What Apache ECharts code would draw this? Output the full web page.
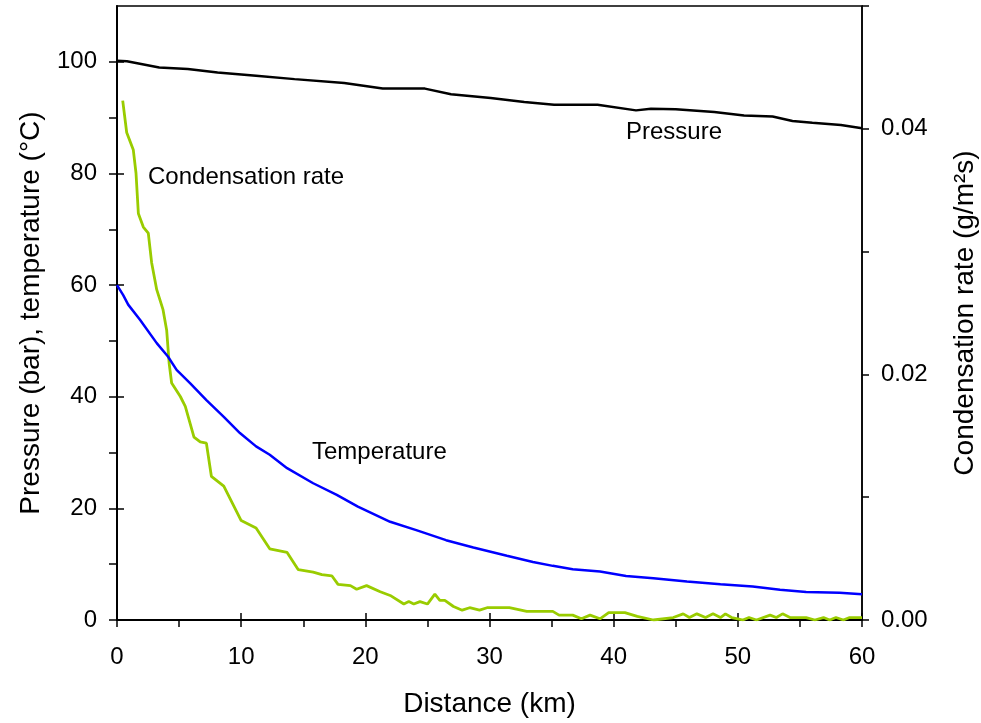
<!DOCTYPE html>
<html>
<head>
<meta charset="utf-8">
<script src="https://cdn.jsdelivr.net/npm/echarts@6/dist/echarts.min.js"></script>
<style>
  html, body { margin: 0; padding: 0; background: #fff; }
  #chart { width: 981px; height: 723px; }
</style>
</head>
<body>
<div id="chart"></div>
<script>
// distance (km) / pressure (bar)
const distP = [0, 0.8, 3.4, 5.7, 8.1, 11.2, 14.3, 18.3, 21.4, 24.8, 26.9, 30.1, 32.8, 35.2, 38.7, 41.8, 43.0, 45.0, 48.1, 50.5, 52.8, 54.4, 56.0, 58.3, 60];
const pressure = [100.2, 100.1, 99.0, 98.7, 98.1, 97.5, 96.9, 96.2, 95.2, 95.2, 94.2, 93.5, 92.8, 92.3, 92.3, 91.3, 91.6, 91.5, 91.0, 90.4, 90.2, 89.4, 89.1, 88.7, 88.1];

// distance (km) / temperature (°C)
const distT = [0, 0.5, 0.9, 1.85, 3.2, 4.1, 4.8, 5.9, 7.2, 8.6, 9.9, 11.2, 12.3, 13.7, 15.8, 17.7, 19.4, 22.0, 24.1, 26.5, 28.7, 31.4, 33.5, 35.1, 36.7, 38.9, 41.0, 43.2, 45.9, 48.6, 51.2, 53.4, 55.5, 58.2, 60];
const temperature = [60.0, 58.2, 56.5, 53.8, 49.6, 47.2, 44.8, 42.4, 39.4, 36.4, 33.5, 31.1, 29.6, 27.2, 24.5, 22.4, 20.3, 17.6, 16.1, 14.3, 13.0, 11.5, 10.4, 9.7, 9.1, 8.7, 7.9, 7.5, 6.9, 6.4, 6.0, 5.4, 5.0, 4.9, 4.6];

// distance (km) / condensation rate (g/m2s)
const distC = [0.46, 0.78, 1.31, 1.53, 1.72, 2.12, 2.52, 2.79, 3.2, 3.7, 4.0, 4.2, 4.4, 5.1, 5.5, 6.2, 6.7, 7.2, 7.6, 8.6, 10.0, 11.2, 12.3, 13.7, 14.6, 15.8, 16.5, 17.3, 17.8, 18.8, 19.3, 20.1, 21.2, 22.0, 23.1, 23.5, 23.9, 24.4, 25.0, 25.6, 26.0, 26.4, 27.1, 27.8, 28.4, 29.2, 29.8, 30.3, 31.6, 33.0, 35.1, 35.6, 36.7, 37.4, 38.1, 38.9, 39.6, 40.9, 41.9, 43.2, 44.8, 45.6, 46.1, 46.7, 47.4, 48.0, 48.6, 49.0, 49.5, 50.0, 50.4, 50.9, 51.5, 52.6, 53.1, 53.6, 54.2, 55.5, 56.2, 56.9, 57.4, 57.9, 58.5, 59.0, 60];
const condRate = [0.0423, 0.0397, 0.0383, 0.0364, 0.0331, 0.0320, 0.0315, 0.0291, 0.0269, 0.0253, 0.0236, 0.0209, 0.0193, 0.0182, 0.0174, 0.0149, 0.0145, 0.0144, 0.0117, 0.0109, 0.0081, 0.0075, 0.0058, 0.0055, 0.0041, 0.0039, 0.0037, 0.0036, 0.0029, 0.0028, 0.0025, 0.0028, 0.0023, 0.0020, 0.0013, 0.0015, 0.0013, 0.0015, 0.0013, 0.0021, 0.0016, 0.0016, 0.0011, 0.0008, 0.0010, 0.0008, 0.0010, 0.0010, 0.0010, 0.0007, 0.0007, 0.0004, 0.0004, 0.0001, 0.0004, 0.0001, 0.0006, 0.0006, 0.0003, 0.0, 0.0002, 0.0005, 0.0002, 0.0005, 0.0002, 0.0005, 0.0002, 0.0005, 0.0002, 0.0001, 0.0, 0.0002, 0.0, 0.0004, 0.0002, 0.0005, 0.0002, 0.0002, 0.0, 0.0002, 0.0, 0.0002, 0.0, 0.0002, 0.0002];

// tick positions
const xMajor = [0, 10, 20, 30, 40, 50, 60];
const xAll = [0, 5, 10, 15, 20, 25, 30, 35, 40, 45, 50, 55, 60];
const yMajor = [0, 20, 40, 60, 80, 100];
const yAll = [0, 10, 20, 30, 40, 50, 60, 70, 80, 90, 100];
const rTicks = [0, 0.01, 0.02, 0.03, 0.04, 0.05];
const rLabels = [0, 0.02, 0.04];

const zip = (xs, ys) => xs.map((x, i) => [x, ys[i]]);

const FONT = 'Liberation Sans, Arial, sans-serif';
const chart = echarts.init(document.getElementById('chart'));

const hidden = { show: false };
const nameStyle = { fontSize: 28, fontFamily: FONT, color: '#000' };
const tickLine = { color: '#000', width: 1.5 };
const rect = { left: 117, right: 119, top: 6, bottom: 103, outerBoundsMode: 'none' };

chart.setOption({
  animation: false,
  backgroundColor: '#fff',
  textStyle: { fontFamily: FONT, color: '#000' },
  grid: [
    Object.assign({ show: true, borderColor: '#000', borderWidth: 1.5 }, rect),
    // overlay grid, only carries the inner half of the major ticks
    Object.assign({}, rect)
  ],
  xAxis: [
    {
      type: 'value', min: 0, max: 60, gridIndex: 0,
      name: 'Distance (km)', nameLocation: 'middle', nameGap: 70,
      nameTextStyle: nameStyle,
      axisLine: { show: true, lineStyle: { color: '#000', width: 2 } },
      axisTick: { show: true, inside: false, length: 7, customValues: xAll, lineStyle: tickLine },
      axisLabel: { customValues: xMajor, fontSize: 24, margin: 25, color: '#000', fontFamily: FONT },
      splitLine: hidden
    },
    {
      type: 'value', min: 0, max: 60, gridIndex: 1,
      axisLine: hidden,
      axisTick: { show: true, inside: true, length: 7, customValues: xMajor, lineStyle: tickLine },
      axisLabel: hidden, splitLine: hidden
    }
  ],
  yAxis: [
    {
      type: 'value', min: 0, max: 110, position: 'left', gridIndex: 0,
      name: 'Pressure (bar), temperature (°C)', nameLocation: 'middle', nameGap: 72, nameRotate: 90,
      nameTextStyle: nameStyle,
      axisLine: { show: true, lineStyle: { color: '#000', width: 2 } },
      axisTick: { show: true, inside: false, length: 8, customValues: yAll, lineStyle: tickLine },
      axisLabel: { customValues: yMajor, fontSize: 24, margin: 20, color: '#000', fontFamily: FONT },
      splitLine: hidden
    },
    {
      type: 'value', min: 0, max: 0.05, position: 'right', gridIndex: 0,
      name: 'Condensation rate (g/m²s)', nameLocation: 'middle', nameGap: 89, nameRotate: 90,
      nameTextStyle: nameStyle,
      axisLine: { show: true, lineStyle: { color: '#000', width: 1.5 } },
      axisTick: { show: true, inside: false, length: 7, customValues: rTicks, lineStyle: tickLine },
      axisLabel: {
        customValues: rLabels, fontSize: 24, margin: 19, color: '#000', fontFamily: FONT,
        formatter: v => v.toFixed(2)
      },
      splitLine: hidden
    },
    {
      type: 'value', min: 0, max: 110, position: 'left', gridIndex: 1,
      axisLine: hidden,
      axisTick: { show: true, inside: true, length: 7, customValues: yMajor, lineStyle: tickLine },
      axisLabel: hidden, splitLine: hidden
    }
  ],
  series: [
    {
      name: 'Pressure', type: 'line', xAxisIndex: 0, yAxisIndex: 0,
      data: zip(distP, pressure), showSymbol: false, symbol: 'none',
      lineStyle: { color: '#000', width: 2.5 }, z: 3
    },
    {
      name: 'Temperature', type: 'line', xAxisIndex: 0, yAxisIndex: 0,
      data: zip(distT, temperature), showSymbol: false, symbol: 'none',
      lineStyle: { color: '#0000ff', width: 2.5 }, z: 3
    },
    {
      name: 'Condensation rate', type: 'line', xAxisIndex: 0, yAxisIndex: 1,
      data: zip(distC, condRate), showSymbol: false, symbol: 'none',
      lineStyle: { color: '#99cc00', width: 2.8 }, z: 2
    }
  ],
  graphic: [
    { type: 'text', left: 626, top: 120, style: { text: 'Pressure', font: '24px ' + FONT, fill: '#000' } },
    { type: 'text', left: 148, top: 165, style: { text: 'Condensation rate', font: '24px ' + FONT, fill: '#000' } },
    { type: 'text', left: 312, top: 440, style: { text: 'Temperature', font: '24px ' + FONT, fill: '#000' } }
  ]
});
</script>
</body>
</html>
